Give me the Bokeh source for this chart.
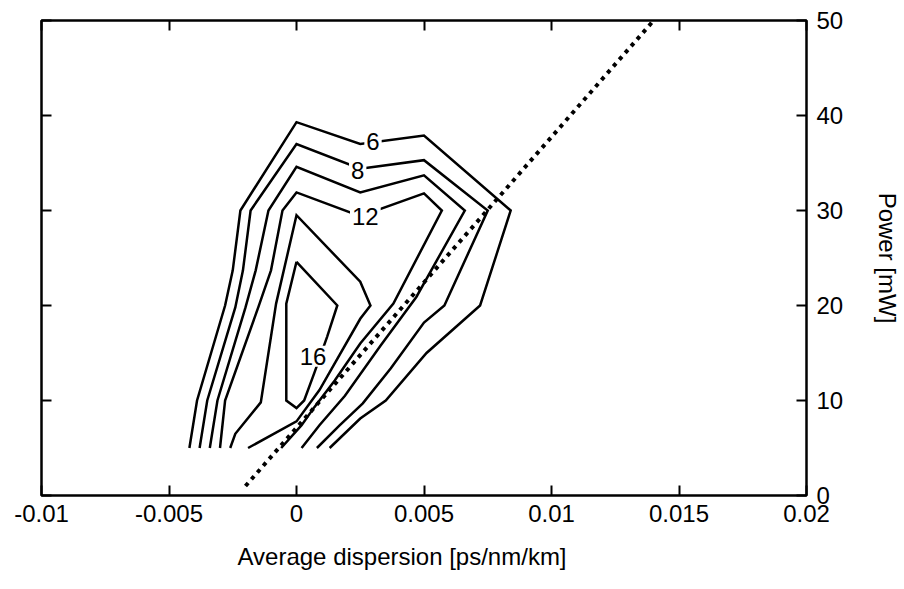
from bokeh.plotting import figure
from bokeh.models import LinearAxis, FixedTicker, ColumnDataSource, Title
from bokeh.embed import file_html
from bokeh.resources import INLINE
from bokeh.core.properties import value

FONT = "Liberation Sans"

# ---- data ----
x_ticks = [-0.01, -0.005, 0.0, 0.005, 0.01, 0.015, 0.02]
x_tick_labels = ["-0.01", "-0.005", "0", "0.005", "0.01", "0.015", "0.02"]
y_ticks = [0, 10, 20, 30, 40, 50]
y_tick_labels = ["0", "10", "20", "30", "40", "50"]

levels = [6, 8, 10, 12, 14, 16]

c6_x = [-0.0042, -0.0039, -0.0028, -0.0025, -0.0022, 0.0, 0.0025, 0.005, 0.0084, 0.0072, 0.0051, 0.0035, 0.0025, 0.0013]
c6_y = [5, 10, 20, 23.7, 30, 39.3, 37.0, 37.9, 30, 20, 15, 10, 8.1, 5]

c8_x = [-0.0038, -0.0035, -0.0024, -0.0021, -0.0018, 0.0, 0.0025, 0.005, 0.0075, 0.0058, 0.005, 0.0037, 0.0026, 0.0017, 0.0008]
c8_y = [5, 10, 19.8, 23.7, 30, 37.0, 34.4, 35.3, 30, 20, 18.2, 13.4, 9.7, 7.4, 5]

c10_x = [-0.0034, -0.0031, -0.002, -0.0016, -0.0011, 0.0, 0.0025, 0.005, 0.0066, 0.0047, 0.0033, 0.0019, 0.0009, 0.0002]
c10_y = [5, 10, 19.8, 23.7, 30, 34.6, 31.9, 33.7, 30, 20.9, 15.8, 10.5, 7.4, 5]

c12_x = [-0.003, -0.0028, -0.0015, -0.001, -0.00055, 0.0, 0.0025, 0.005, 0.0057, 0.0038, 0.0025, 0.0015, 0.0007, 0.0002, -0.0006]
c12_y = [5, 10, 19.8, 23.7, 30, 31.9, 29.4, 31.8, 30, 20.2, 16.0, 12.1, 9.3, 7.4, 5]

c14_x = [-0.0026, -0.0024, -0.0014, -0.0008, 0.0, 0.0025, 0.0029, 0.0025, 0.0009, 0.0, -0.0019]
c14_y = [5, 6.5, 9.8, 20.2, 29.5, 22.5, 20, 18.6, 11.1, 7.8, 5]

c16_x = [0.0, 0.0016, 0.0012, 0.0007, 0.0003, 0.0, -0.0004, -0.0004, 0.0]
c16_y = [24.6, 20, 16.7, 12.9, 10, 9.2, 10, 20.2, 24.6]

label_text = ["6", "8", "12", "16"]
label_x = [0.003, 0.0024, 0.0027, 0.00065]
label_y = [37.3, 34.2, 29.4, 14.65]

dotted_x = [-0.002, 0.0142]
dotted_y = [1.0, 50.6]

x_title = "Average dispersion [ps/nm/km]"
y_title = "Power [mW]"

# ---- figure ----
p = figure(width=904, height=589, x_range=(-0.01, 0.02), y_range=(0, 50),
           y_axis_location="right", output_backend="svg", toolbar_location=None,
           min_border_left=41, min_border_right=98, min_border_top=20, min_border_bottom=94)
p.background_fill_color = "white"
p.border_fill_color = "white"
p.outline_line_color = "black"
p.outline_line_width = 2.5
p.xgrid.visible = False
p.ygrid.visible = False

bottom_axis = p.below[0]
right_axis = p.right[0]
top_axis = LinearAxis()
left_axis = LinearAxis()
p.add_layout(top_axis, "above")
p.add_layout(left_axis, "left")

def style(ax, ticks, labels, show):
    ax.ticker = FixedTicker(ticks=ticks)
    ax.axis_line_color = None
    ax.major_tick_in = 10
    ax.major_tick_out = 0
    ax.major_tick_line_width = 2
    ax.major_tick_line_color = "black"
    ax.minor_tick_line_color = None
    ax.major_label_text_font = FONT
    ax.major_label_text_color = "black"
    ax.major_label_text_font_size = "24px"
    if show:
        ax.major_label_overrides = {t: s for t, s in zip(ticks, labels)}
        ax.major_label_standoff = 9
    else:
        ax.major_label_overrides = {t: "" for t in ticks}
        ax.major_label_standoff = 0

style(bottom_axis, x_ticks, x_tick_labels, True)
style(top_axis, x_ticks, x_tick_labels, False)
style(right_axis, y_ticks, y_tick_labels, True)
style(left_axis, y_ticks, y_tick_labels, False)

right_axis.axis_label = y_title
right_axis.axis_label_text_font = FONT
right_axis.axis_label_text_font_size = "24px"
right_axis.axis_label_text_font_style = "normal"
right_axis.axis_label_text_color = "black"
right_axis.axis_label_standoff = 28
right_axis.major_label_standoff = 10

xt = Title(text=x_title, align="left", offset=196, vertical_align="top",
           standoff=36, text_font=FONT, text_font_size="24px",
           text_font_style="normal", text_color="black")
p.add_layout(xt, "below")

contours = ColumnDataSource(dict(
    xs=[c6_x, c8_x, c10_x, c12_x, c14_x, c16_x],
    ys=[c6_y, c8_y, c10_y, c12_y, c14_y, c16_y],
    level=levels,
))
p.multi_line(xs="xs", ys="ys", source=contours, line_color="black",
             line_width=2.5, line_join="miter")

p.line(dotted_x, dotted_y, line_color="black", line_width=4,
       line_dash="4 5", line_cap="butt")

labels = ColumnDataSource(dict(x=label_x, y=label_y, text=label_text))
p.text(x="x", y="y", text="text", source=labels, text_font=value(FONT),
       text_font_size="24px", text_align="center", text_baseline="middle",
       text_color="black", background_fill_color="white", padding=2)

open("out.html", "w").write(file_html(p, INLINE))
